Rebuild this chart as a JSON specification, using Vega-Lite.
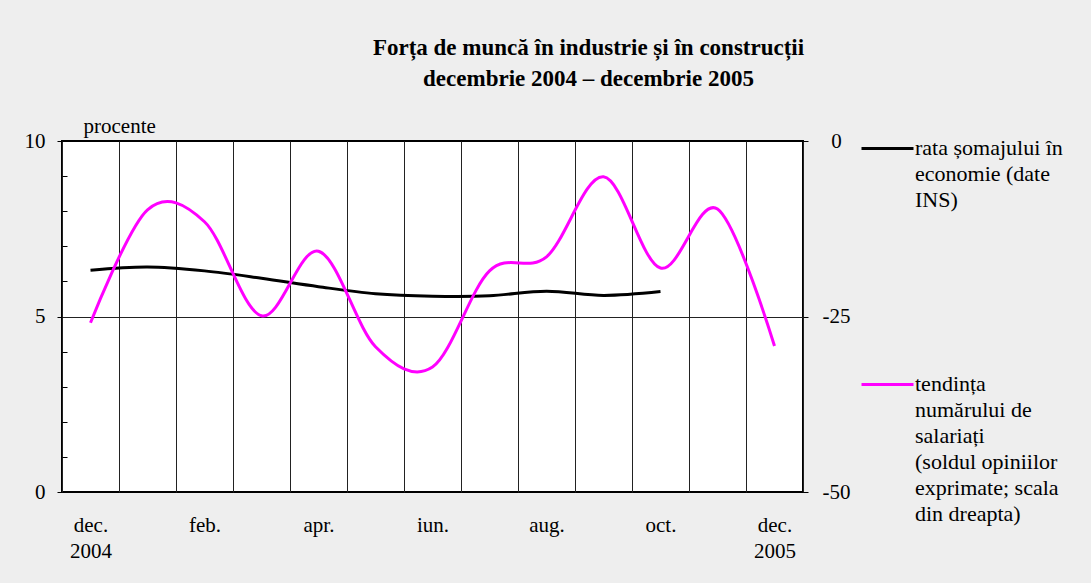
{
  "$schema": "https://vega.github.io/schema/vega-lite/v6.json",
  "width": 741,
  "height": 351,
  "autosize": {"type": "none"},
  "padding": {"left": 62, "top": 141, "right": 288, "bottom": 91},
  "background": "#eeeeee",
  "title": {
    "text": ["Forța de muncă în industrie și în construcții", "decembrie 2004 – decembrie 2005"],
    "font": "Liberation Serif, Times New Roman, serif",
    "fontSize": 23,
    "fontWeight": "bold",
    "lineHeight": 31,
    "anchor": "middle",
    "frame": "group",
    "dx": 156,
    "offset": 24,
    "color": "black"
  },
  "data": {
    "values": [
      {"m": "2004-12", "u": 6.32, "s": -25.9},
      {"m": "2005-01", "u": 6.41, "s": -9.8},
      {"m": "2005-02", "u": 6.30, "s": -11.5},
      {"m": "2005-03", "u": 6.09, "s": -24.9},
      {"m": "2005-04", "u": 5.85, "s": -15.7},
      {"m": "2005-05", "u": 5.65, "s": -29.3},
      {"m": "2005-06", "u": 5.58, "s": -32.2},
      {"m": "2005-07", "u": 5.59, "s": -18.5},
      {"m": "2005-08", "u": 5.72, "s": -16.5},
      {"m": "2005-09", "u": 5.60, "s": -5.1},
      {"m": "2005-10", "u": 5.71, "s": -18.1},
      {"m": "2005-11", "u": null, "s": -9.7},
      {"m": "2005-12", "u": null, "s": -29.2}
    ]
  },
  "encoding": {
    "x": {
      "field": "m",
      "type": "ordinal",
      "sort": null,
      "scale": {"paddingInner": 0, "paddingOuter": 0},
      "axis": {
        "title": null,
        "labelAngle": 0,
        "tickBand": "extent",
        "ticks": false,
        "grid": true,
        "gridColor": "#222222",
        "gridWidth": 1,
        "labelPadding": 22,
        "labelBaseline": "top",
        "labelLineHeight": 26,
        "labelExpr": "datum.value == '2004-12' ? ['dec.', '2004'] : datum.value == '2005-02' ? 'feb.' : datum.value == '2005-04' ? 'apr.' : datum.value == '2005-06' ? 'iun.' : datum.value == '2005-08' ? 'aug.' : datum.value == '2005-10' ? 'oct.' : datum.value == '2005-12' ? ['dec.', '2005'] : ''"
      }
    }
  },
  "layer": [
    {
      "mark": {"type": "line", "interpolate": "cardinal", "tension": 0, "strokeWidth": 3},
      "encoding": {
        "y": {
          "field": "u",
          "type": "quantitative",
          "scale": {"domain": [0, 10], "nice": false, "zero": false},
          "axis": {
            "orient": "left",
            "values": [0, 1, 2, 3, 4, 5, 6, 7, 8, 9, 10],
            "labelExpr": "datum.value % 5 === 0 ? datum.label : ''",
            "tickSize": {"condition": {"test": "datum.value % 5 === 0", "value": 5}, "value": -5},
            "labelPadding": 12,
            "grid": true,
            "gridColor": "#222222",
            "gridOpacity": {"condition": {"test": "datum.value === 5", "value": 1}, "value": 0},
            "title": "procente",
            "titleAngle": 0,
            "titleAlign": "left",
            "titleBaseline": "alphabetic",
            "titleX": 21,
            "titleY": -9,
            "titleFont": "Liberation Serif, Times New Roman, serif",
            "titleFontSize": 21,
            "titleFontWeight": "normal",
            "titleColor": "black"
          }
        },
        "color": {
          "datum": "a",
          "type": "nominal",
          "scale": {"domain": ["a"], "range": ["#000000"]},
          "legend": {
            "orient": "none",
            "legendX": 798,
            "legendY": -20,
            "title": null,
            "labelExpr": "['rata șomajului în', 'economie (date', 'INS)']",
            "encode": {"labels": {"update": {"lineHeight": {"value": 26}, "dy": {"value": -11}}}}
          }
        }
      }
    },
    {
      "mark": {"type": "line", "interpolate": "cardinal", "tension": 0, "strokeWidth": 3},
      "encoding": {
        "y": {
          "field": "s",
          "type": "quantitative",
          "scale": {"domain": [-50, 0], "nice": false, "zero": false},
          "axis": {
            "orient": "right",
            "values": [-50, -25, 0],
            "labelExpr": "'' + datum.value",
            "tickSize": 5,
            "labelAlign": "center",
            "labelPadding": 28,
            "grid": false,
            "title": null
          }
        },
        "color": {
          "datum": "b",
          "type": "nominal",
          "scale": {"domain": ["b"], "range": ["#ff00ff"]},
          "legend": {
            "orient": "none",
            "legendX": 798,
            "legendY": 216,
            "title": null,
            "labelExpr": "['tendința', 'numărului de', 'salariați', '(soldul opiniilor', 'exprimate; scala', 'din dreapta)']",
            "encode": {"labels": {"update": {"lineHeight": {"value": 26}, "dy": {"value": -11}}}}
          }
        }
      }
    }
  ],
  "resolve": {"scale": {"y": "independent", "color": "independent"}},
  "config": {
    "font": "Liberation Serif, Times New Roman, serif",
    "view": {"stroke": "#000000", "strokeWidth": 2, "fill": "white"},
    "axis": {
      "labelFont": "Liberation Serif, Times New Roman, serif",
      "labelFontSize": 21,
      "labelColor": "black",
      "domain": false,
      "tickColor": "black",
      "tickWidth": 1
    },
    "legend": {
      "symbolType": "stroke",
      "symbolSize": 2704,
      "symbolStrokeWidth": 3,
      "labelFont": "Liberation Serif, Times New Roman, serif",
      "labelFontSize": 22,
      "labelColor": "black",
      "labelBaseline": "top",
      "labelOffset": 0,
      "labelLimit": 0,
      "padding": 0
    }
  }
}
